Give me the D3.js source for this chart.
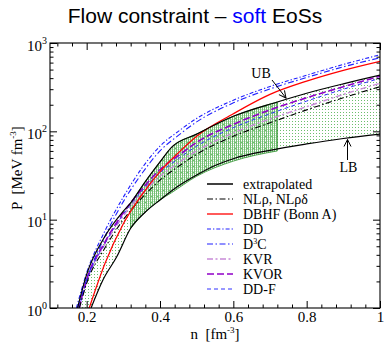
<!DOCTYPE html>
<html><head><meta charset="utf-8">
<script src="https://cdn.jsdelivr.net/npm/d3@7"></script>
<style>
body{margin:0;background:#fff} svg{display:block}
.serif{font-family:"Liberation Serif","DejaVu Serif","Times New Roman",serif; white-space:pre}
.sans{font-family:"Liberation Sans",Arial,sans-serif; white-space:pre}
</style>
</head><body>
<svg id="c" width="384" height="342"></svg>
<script>
// ---------------- data ----------------
const nGrid = [0.2, 0.25, 0.3, 0.35, 0.4, 0.45, 0.5, 0.6, 0.7, 0.8, 0.9, 1.0];
// density where each EoS reaches P = 1 MeV fm^-3
const onsetN = [0.180, 0.207, 0.172, 0.176, 0.181, 0.179, 0.179];
const pNL   = [1.9, 4.8, 10,  17.5, 28, 40,  55,  88,  125, 175, 240, 320];
const pDBHF = [0.8, 3.2, 9,   19,   35, 57,  88,  158, 262, 370, 490, 620];
const pDD   = [2.5, 7.5, 18,  38,   68, 100, 140, 225, 322, 432, 572, 735];
const pD3C  = [2.1, 6.5, 16,  33,   60, 90,  128, 210, 302, 407, 537, 680];
const pKVR  = [2.0, 5.3, 11,  19.5, 31, 44,  60,  96,  138, 190, 262, 350];
const pKVOR = [2.1, 5.6, 12,  22,   37, 53,  75,  120, 175, 240, 320, 420];
const pDDF  = [2.0, 5.4, 11.5,21,   34, 49,  68,  110, 158, 220, 300, 398];
const seriesLabels = ["NLρ, NLρδ", "DBHF (Bonn A)", "DD", "D3C", "KVR", "KVOR", "DD-F"];

// extrapolated bounds
const ubN = [0.175, 0.2, 0.25, 0.3, 0.32, 0.36, 0.4, 0.43, 0.5, 0.6, 0.72, 0.8, 0.9, 1.0];
const ubP = [1, 2.4, 6.5, 12.5, 15.5, 27, 45, 65, 93, 148, 215, 270, 345, 432];
const lbN = [0.212, 0.245, 0.282, 0.32, 0.36, 0.4, 0.45, 0.5, 0.55, 0.6, 0.7, 0.8, 0.9, 1.0];
const lbP = [1, 2.1, 3.8, 8.0, 12.2, 16.7, 24, 32, 41, 49, 61, 72, 83, 93];
// flow constraint band
const bandN  = [0.32, 0.36, 0.4, 0.43, 0.5, 0.6, 0.72];
const bandLo = [8.0, 12.2, 16.7, 20, 31, 46, 60];
const bandHi = [15.5, 27, 45, 65, 93, 148, 215];

const xMajor = [0.2, 0.4, 0.6, 0.8, 1.0];
const xTickLabels = ["0.2", "0.4", "0.6", "0.8", "1"];
const yMajor = [1, 10, 100, 1000];
const yExp = ["0", "1", "2", "3"];

// ---------------- drawing ----------------
const svg = d3.select("#c");
const L = 50, R = 380, T = 43, B = 308;
const x = d3.scaleLinear().domain([0.1, 1]).range([L, R]);
const y = d3.scaleLog().domain([1, 1000]).range([B, T]);

const defs = svg.append("defs");
defs.append("clipPath").attr("id", "clip").append("rect")
  .attr("x", L).attr("y", T).attr("width", R - L).attr("height", B - T);
const pd = defs.append("pattern").attr("id", "dots").attr("width", 3).attr("height", 3)
  .attr("patternUnits", "userSpaceOnUse");
pd.append("rect").attr("x", 1).attr("y", 1).attr("width", 1).attr("height", 1).attr("fill", "#6cbf6c");
const ph = defs.append("pattern").attr("id", "hatch").attr("width", 2).attr("height", 2)
  .attr("patternUnits", "userSpaceOnUse");
ph.append("rect").attr("width", 1).attr("height", 2).attr("fill", "#74bf74");
ph.append("rect").attr("x", 1).attr("y", 1).attr("width", 1).attr("height", 1).attr("fill", "#c4e4c4");

// title
const title = svg.append("text").attr("class", "sans").attr("x", 195).attr("y", 23)
  .attr("text-anchor", "middle").attr("font-size", 21).attr("fill", "#000");
title.append("tspan").text("Flow constraint – ");
title.append("tspan").attr("fill", "#0000ff").text("soft");
title.append("tspan").text(" EoSs");

const line = d3.line().x(d => x(d[0])).y(d => y(d[1])).curve(d3.curveMonotoneX);
const zip = (a, b) => a.map((v, i) => [v, b[i]]);
const plot = svg.append("g").attr("clip-path", "url(#clip)");

// extrapolated region (dotted)
const ubPts = zip(ubN, ubP), lbPts = zip(lbN, lbP);
plot.append("path")
  .attr("d", line(ubPts) + line(lbPts.slice().reverse()).replace(/^M/, "L") + "Z")
  .attr("fill", "url(#dots)").attr("stroke", "none");
// band (hatched)
const hiPts = zip(bandN, bandHi), loPts = zip(bandN, bandLo);
plot.append("path")
  .attr("d", line(hiPts) + line(loPts.slice().reverse()).replace(/^M/, "L") + "Z")
  .attr("fill", "url(#hatch)").attr("stroke", "#2f8f2f").attr("stroke-width", 0.8);

// model curves
const allP = [pNL, pDBHF, pDD, pD3C, pKVR, pKVOR, pDDF];
const styles = [
  {c: "#000000", w: 1.1, d: "6,2.5,1.5,2.5"},
  {c: "#ff0000", w: 1.3, d: null},
  {c: "#2020ff", w: 1.1, d: "4,2,1.3,2"},
  {c: "#2020ff", w: 1.1, d: "6,2.5,1.5,2.5"},
  {c: "#c88ad8", w: 1.4, d: "6,2.5,2,2.5"},
  {c: "#9000c8", w: 1.6, d: "7,3"},
  {c: "#3030ff", w: 1.0, d: "4,3"}
];
const order = [4, 6, 5, 0, 2, 3, 1];
order.forEach(i => {
  const p = [[onsetN[i], 1]];
  nGrid.forEach((n, k) => { if (n > onsetN[i] + 1e-9) p.push([n, allP[i][k]]); });
  plot.append("path").attr("d", line(p)).attr("fill", "none")
    .attr("stroke", styles[i].c).attr("stroke-width", styles[i].w)
    .attr("stroke-dasharray", styles[i].d);
});
// bounds
[ubPts, lbPts].forEach(p => plot.append("path").attr("d", line(p)).attr("fill", "none")
  .attr("stroke", "#000").attr("stroke-width", 1.2));

// axes
function styleAxis(g) { g.select(".domain").remove(); g.selectAll("line").attr("stroke", "#000"); }
const xMinor = d3.range(0.12, 1.0, 0.04).filter(v => Math.abs(v / 0.2 - Math.round(v / 0.2)) > 1e-6);
const yMinor = [];
[1, 10, 100].forEach(dec => { for (let k = 2; k <= 9; k++) yMinor.push(k * dec); });

const gb = svg.append("g").attr("transform", `translate(0,${B})`)
  .call(d3.axisBottom(x).tickValues(xMajor).tickSize(-7).tickPadding(3.5)
    .tickFormat((d, i) => xTickLabels[i]));
gb.attr("font-family", null).attr("font-size", null);
gb.selectAll("text").attr("class", "serif").attr("font-size", 15).attr("fill", "#000");
styleAxis(gb);
svg.append("g").attr("transform", `translate(0,${B})`)
  .call(d3.axisBottom(x).tickValues(xMinor).tickSize(-3.5).tickFormat("")).call(styleAxis);
svg.append("g").attr("transform", `translate(0,${T})`)
  .call(d3.axisTop(x).tickValues(xMajor).tickSize(-7).tickFormat("")).call(styleAxis);
svg.append("g").attr("transform", `translate(0,${T})`)
  .call(d3.axisTop(x).tickValues(xMinor).tickSize(-3.5).tickFormat("")).call(styleAxis);
svg.append("g").attr("transform", `translate(${L},0)`)
  .call(d3.axisLeft(y).tickValues(yMajor).tickSize(-7).tickFormat("")).call(styleAxis);
svg.append("g").attr("transform", `translate(${L},0)`)
  .call(d3.axisLeft(y).tickValues(yMinor).tickSize(-3.5).tickFormat("")).call(styleAxis);
svg.append("g").attr("transform", `translate(${R},0)`)
  .call(d3.axisRight(y).tickValues(yMajor).tickSize(-7).tickFormat("")).call(styleAxis);
svg.append("g").attr("transform", `translate(${R},0)`)
  .call(d3.axisRight(y).tickValues(yMinor).tickSize(-3.5).tickFormat("")).call(styleAxis);

// y tick labels 10^k
yMajor.forEach((v, i) => {
  const t = svg.append("text").attr("class", "serif").attr("x", 47).attr("y", y(v) + 7.5)
    .attr("text-anchor", "end").attr("font-size", 15).attr("fill", "#000");
  t.append("tspan").text("10");
  t.append("tspan").attr("font-size", 10).attr("dy", -7).text(yExp[i]);
});

// frame
svg.append("rect").attr("x", L).attr("y", T).attr("width", R - L).attr("height", B - T)
  .attr("fill", "none").attr("stroke", "#000").attr("stroke-width", 1.1);

// axis titles
const xl = svg.append("text").attr("class", "serif").attr("x", 215).attr("y", 338.5)
  .attr("text-anchor", "middle").attr("font-size", 15).attr("fill", "#000");
xl.append("tspan").text("n  [fm");
xl.append("tspan").attr("font-size", 9).attr("dy", -6).text("-3");
xl.append("tspan").attr("dy", 6).text("]");
const yl = svg.append("text").attr("class", "serif").attr("transform", "translate(22,168) rotate(-90)")
  .attr("text-anchor", "middle").attr("font-size", 15).attr("fill", "#000");
yl.append("tspan").text("P  [MeV fm");
yl.append("tspan").attr("font-size", 9).attr("dy", -6).text("-3");
yl.append("tspan").attr("dy", 6).text("]");

// annotations
defs.append("marker").attr("id", "arr").attr("viewBox", "-8 -5 10 10").attr("refX", 0).attr("refY", 0)
  .attr("markerWidth", 10).attr("markerHeight", 10).attr("markerUnits", "userSpaceOnUse").attr("orient", "auto")
  .append("path").attr("d", "M-7,-3.5L0,0L-7,3.5").attr("fill", "none").attr("stroke", "#000").attr("stroke-width", 1);
svg.append("text").attr("class", "serif").attr("x", 261).attr("y", 77.5).attr("text-anchor", "middle")
  .attr("font-size", 14).attr("fill", "#000").text("UB");
svg.append("line").attr("x1", 272).attr("y1", 80).attr("x2", 286).attr("y2", 98)
  .attr("stroke", "#000").attr("stroke-width", 1).attr("marker-end", "url(#arr)");
svg.append("text").attr("class", "serif").attr("x", 348.5).attr("y", 172).attr("text-anchor", "middle")
  .attr("font-size", 14).attr("fill", "#000").text("LB");
svg.append("line").attr("x1", 347.5).attr("y1", 160).attr("x2", 347.5).attr("y2", 139.5)
  .attr("stroke", "#000").attr("stroke-width", 1).attr("marker-end", "url(#arr)");

// legend
const legLabels = ["extrapolated"].concat(seriesLabels);
const legStyles = [{c: "#000", w: 1.5, d: null}].concat(styles);
legLabels.forEach((lab, i) => {
  const cy = 184 + i * 15;
  svg.append("line").attr("x1", 207).attr("x2", 233).attr("y1", cy).attr("y2", cy)
    .attr("stroke", legStyles[i].c).attr("stroke-width", legStyles[i].w)
    .attr("stroke-dasharray", legStyles[i].d);
  const t = svg.append("text").attr("class", "serif").attr("x", 243).attr("y", cy + 4.5)
    .attr("font-size", 14).attr("fill", "#000");
  if (lab === "D3C") {
    t.append("tspan").text("D");
    t.append("tspan").attr("font-size", 8).attr("dy", -5).text("3");
    t.append("tspan").attr("dy", 5).text("C");
  } else t.text(lab);
});
</script>
</body></html>
